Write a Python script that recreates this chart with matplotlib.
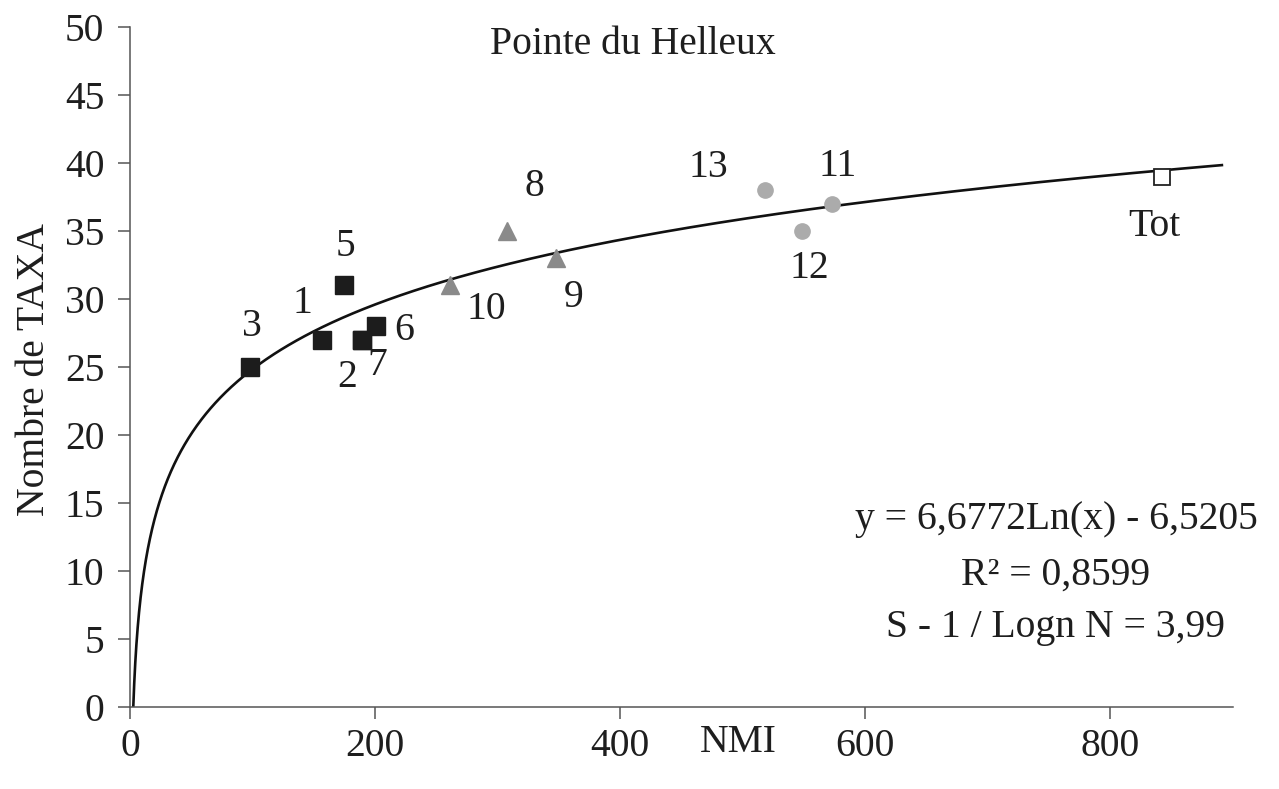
import numpy as np
import matplotlib
matplotlib.use("Agg")
import matplotlib.pyplot as plt

# ---- data ----
sq_labels = ["3", "1", "5", "2", "7", "6"]
sq_x = [98, 157, 175, 189, 189, 201]
sq_y = [25, 27, 31, 27, 27, 28]

tri_labels = ["10", "8", "9"]
tri_x = [261, 308, 348]
tri_y = [31, 35, 33]

circ_labels = ["13", "12", "11"]
circ_x = [518, 548, 573]
circ_y = [38, 35, 37]

tot_label = ["Tot"]
tot_x = [842]
tot_y = [39]

# logarithmic trend line as drawn in the picture: y = a*ln(x) + b
trend_a = 6.86
trend_b = -6.75
trend_x_max = 892

x_ticks = [0, 200, 400, 600, 800]
y_ticks = [0, 5, 10, 15, 20, 25, 30, 35, 40, 45, 50]

title = "Pointe du Helleux"
xlabel = "NMI"
ylabel = "Nombre de TAXA"
eq_lines = ["y = 6,6772Ln(x) - 6,5205", "R² = 0,8599", "S - 1 / Logn N = 3,99"]

# label offsets in pixels (style / placement only)
label_offsets = {
    "3": (2, 40), "1": (-20, 36), "5": (1, 39), "2": (-15, -38), "7": (16, -26),
    "6": (28, -4), "10": (36, -24), "8": (27, 45), "9": (17, -39),
    "13": (-57, 23), "12": (8, -37), "11": (5, 37), "Tot": (-8, -50),
}

plt.rcParams["font.family"] = ["Liberation Serif", "DejaVu Serif"]
FS = 28.5
TXT = "#1e1e1e"

fig = plt.figure(figsize=(12.79, 7.89), dpi=100)
ax = fig.add_axes([130 / 1279, 1 - 707 / 789, 1103 / 1279, 680 / 789])

# trend line
x0 = np.exp(-trend_b / trend_a)
tx = np.geomspace(x0, trend_x_max, 600)
ty = trend_a * np.log(tx) + trend_b
ax.plot(tx, ty, color="#111111", lw=1.9, zorder=2, solid_capstyle="butt")

ax.plot(sq_x, sq_y, ls="none", marker="s", ms=12.5, color="#1c1c1c", mec="#1c1c1c", zorder=3)
ax.plot(tri_x, tri_y, ls="none", marker="^", ms=13, color="#8a8a8a", mec="#8a8a8a", zorder=3)
ax.plot(circ_x, circ_y, ls="none", marker="o", ms=11, color="#ababab", mec="#ababab", zorder=3)
ax.plot(tot_x, tot_y, ls="none", marker="s", ms=11.5, mfc="white", mec="#222222", mew=1.3, zorder=3)

for labs, xs, ys in [(sq_labels, sq_x, sq_y), (tri_labels, tri_x, tri_y),
                     (circ_labels, circ_x, circ_y), (tot_label, tot_x, tot_y)]:
    for lab, x, y in zip(labs, xs, ys):
        ax.annotate(lab, (x, y), xytext=label_offsets[lab], textcoords="offset pixels",
                    ha="center", va="center", fontsize=FS, color=TXT)

ax.set_xlim(0, 900)
ax.set_ylim(0, 50)
ax.set_xticks(x_ticks)
ax.set_yticks(y_ticks)
ax.tick_params(axis="both", labelsize=FS, colors="#555555", labelcolor=TXT,
               length=8.5, width=1.1, direction="out")
ax.tick_params(axis="x", pad=6.5)
ax.tick_params(axis="y", pad=10)

for s in ["top", "right"]:
    ax.spines[s].set_visible(False)
for s in ["left", "bottom"]:
    ax.spines[s].set_color("#555555")
    ax.spines[s].set_linewidth(1.1)

ax.set_xlabel(xlabel, fontsize=FS, color=TXT)
ax.xaxis.set_label_coords((738 - 130) / 1103, (707 - 742) / 680)
ax.xaxis.label.set_va("center")
ax.set_ylabel(ylabel, fontsize=FS, color=TXT)
ax.yaxis.set_label_coords((35 - 130) / 1103, (707 - 370) / 680)
ax.yaxis.label.set_va("center")

ax.text((633 - 130) / 1103, (707 - 45) / 680, title, transform=ax.transAxes,
        ha="center", va="center", fontsize=FS, color=TXT)

for line, ypx in zip(eq_lines, [520, 575, 627]):
    ax.text((1056 - 130) / 1103, (707 - ypx) / 680, line, transform=ax.transAxes,
            ha="center", va="center", fontsize=FS, color=TXT, clip_on=False)

fig.savefig("out.png", dpi=100, facecolor="white")
